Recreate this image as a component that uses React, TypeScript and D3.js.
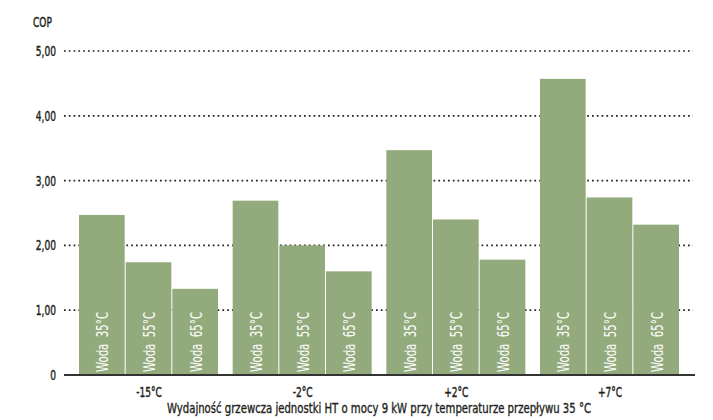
import { scaleBand, scaleLinear } from "d3";

const groups = ["-15°C", "-2°C", "+2°C", "+7°C"];
const series = ["Woda  35°C", "Woda  55°C", "Woda  65°C"];
const cop35 = [2.47, 2.69, 3.47, 4.57];
const cop55 = [1.74, 2.0, 2.4, 2.74];
const cop65 = [1.33, 1.6, 1.78, 2.32];
const ticks = [0, 1, 2, 3, 4, 5];
const tickLabels = ["0", "1,00", "2,00", "3,00", "4,00", "5,00"];
const yTitle = "COP";
const xTitle = "Wydajność grzewcza jednostki HT o mocy 9 kW przy temperaturze przepływu 35 °C";

const values = [cop35, cop55, cop65];

const font = "'DejaVu Sans Condensed', 'Liberation Sans Narrow', sans-serif";
const ink = "#231f20";
const barColor = "#93aa7d";

// narrow text: DejaVu squeezed horizontally to look like the condensed original
function NText(props: {
  x: number;
  y: number;
  anchor?: string;
  size: number;
  sx?: number;
  fill?: string;
  children: string;
}) {
  const { x, y, anchor = "start", size, sx = 0.72, fill = ink, children } = props;
  return (
    <text
      transform={`translate(${x},${y}) scale(${sx},1)`}
      textAnchor={anchor}
      fontSize={size}
      fill={fill}
      stroke={fill}
      strokeWidth={0.4}
    >
      {children}
    </text>
  );
}

function App() {
  const width = 713;
  const height = 420;
  const left = 64;
  const right = 695;

  const y = scaleLinear().domain([0, 5]).range([375, 51]);
  const x0 = scaleBand().domain(groups).range([79, 680]).paddingInner(0.089).paddingOuter(0);
  const x1 = scaleBand().domain(series).range([0, x0.bandwidth()]).padding(0);

  return (
    <svg
      width={width}
      height={height}
      style={{ position: "absolute", left: 0, top: 0, background: "#fff" }}
      fontFamily={font}
    >
      <NText x={33} y={27} size={14}>
        {yTitle}
      </NText>

      {ticks.map((t, i) => (
        <g key={t}>
          <NText x={56} y={y(t) + 5} anchor="end" size={14}>
            {tickLabels[i]}
          </NText>
          {t > 0 && (
            <line
              x1={left}
              x2={693}
              y1={y(t)}
              y2={y(t)}
              stroke={ink}
              strokeWidth={1.7}
              strokeDasharray="1.7,3.1"
            />
          )}
        </g>
      ))}

      {groups.map((g, gi) => (
        <g key={g} transform={`translate(${x0(g)},0)`}>
          {series.map((s, si) => {
            const v = values[si][gi];
            const bx = x1(s) as number;
            const bw = x1.bandwidth();
            return (
              <g key={s}>
                <rect x={bx} y={y(v)} width={bw - 1} height={y(0) - y(v)} fill={barColor} />
                <text
                  transform={`translate(${bx + bw / 2 + 6},${y(0) - 3}) rotate(-90)`}
                  fontSize={16.5}
                  fill="#fff"
                  textLength={60}
                  lengthAdjust="spacingAndGlyphs"
                  style={{ whiteSpace: "pre" }}
                >
                  {s}
                </text>
              </g>
            );
          })}
          <NText x={x0.bandwidth() / 2} y={397} anchor="middle" size={14}>
            {g}
          </NText>
        </g>
      ))}

      <line x1={left} x2={right} y1={y(0)} y2={y(0)} stroke="#333" strokeWidth={2} />

      <text
        x={167}
        y={413}
        fontSize={14.5}
        fill={ink}
        stroke={ink}
        strokeWidth={0.35}
        textLength={424}
        lengthAdjust="spacingAndGlyphs"
      >
        {xTitle}
      </text>
    </svg>
  );
}

export default App;
